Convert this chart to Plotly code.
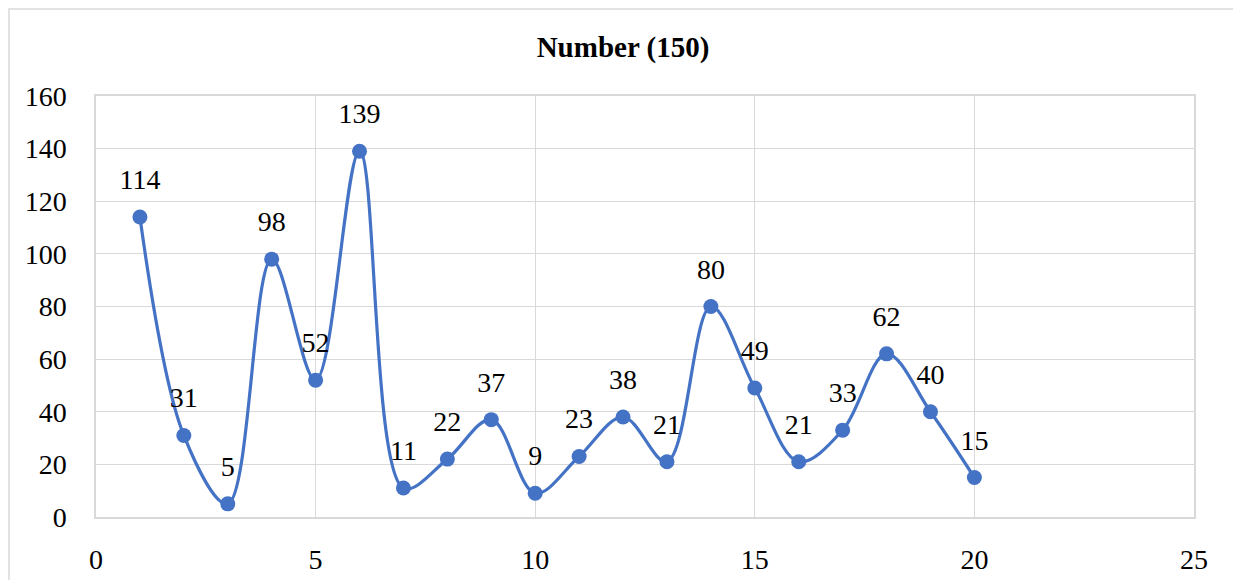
import plotly.graph_objects as go

# Series data
x_vals = list(range(1, 21))
counts = [114, 31, 5, 98, 52, 139, 11, 22, 37, 9, 23, 38, 21, 80, 49, 21, 33, 62, 40, 15]
chart_title = "Number (150)"
x_ticks = [0, 5, 10, 15, 20, 25]
y_ticks = [0, 20, 40, 60, 80, 100, 120, 140, 160]

BLUE = "#4472C4"
GRID = "#d9d9d9"
FONT = "Times New Roman, Liberation Serif, serif"

fig = go.Figure()

# smoothed line with markers
fig.add_trace(
    go.Scatter(
        x=x_vals,
        y=counts,
        mode="lines+markers",
        line=dict(color=BLUE, width=3.2, shape="spline", smoothing=1),
        marker=dict(color=BLUE, size=15),
        hoverinfo="x+y",
    )
)

# value labels, lifted above each point by an invisible marker
fig.add_trace(
    go.Scatter(
        x=x_vals,
        y=counts,
        mode="markers+text",
        marker=dict(color="rgba(0,0,0,0)", size=32),
        text=[str(v) for v in counts],
        textposition="top center",
        textfont=dict(family=FONT, size=28, color="#000000"),
        cliponaxis=False,
        hoverinfo="skip",
    )
)

W, H = 1233, 580
ml, mr, mt, mb = 96, 39, 96, 63
pw, ph = W - ml - mr, H - mt - mb

fig.update_layout(
    width=W,
    height=H,
    margin=dict(l=ml, r=mr, t=mt, b=mb, autoexpand=False),
    paper_bgcolor="white",
    plot_bgcolor="white",
    showlegend=False,
    font=dict(family=FONT, color="#000000"),
    title=dict(
        text="<b>" + chart_title + "</b>",
        x=623 / W,
        xref="container",
        xanchor="center",
        y=1 - 47 / H,
        yref="container",
        yanchor="middle",
        font=dict(family=FONT, size=29, color="#000000"),
    ),
    xaxis=dict(
        range=[0, 25],
        tickvals=x_ticks,
        showgrid=True,
        gridcolor=GRID,
        gridwidth=1.3,
        zeroline=False,
        showline=True,
        linecolor=GRID,
        linewidth=1.5,
        mirror=True,
        ticks="",
        automargin=False,
        ticklabelstandoff=17,
        tickfont=dict(family=FONT, size=28, color="#000000"),
    ),
    yaxis=dict(
        range=[0, 160],
        tickvals=y_ticks,
        showgrid=True,
        gridcolor=GRID,
        gridwidth=1.3,
        zeroline=False,
        showline=True,
        linecolor=GRID,
        linewidth=1.5,
        mirror=True,
        ticks="",
        automargin=False,
        ticklabelstandoff=22,
        tickfont=dict(family=FONT, size=28, color="#000000"),
    ),
    shapes=[
        # chart-area frame
        dict(
            type="rect",
            xref="paper",
            yref="paper",
            x0=(9 - ml) / pw,
            x1=(W + 10 - ml) / pw,
            y0=-(H + 10 - (mt + ph)) / ph,
            y1=(mt + ph - 9) / ph,
            line=dict(color=GRID, width=1.5),
            layer="below",
        )
    ],
)

fig.write_html("out.html")
